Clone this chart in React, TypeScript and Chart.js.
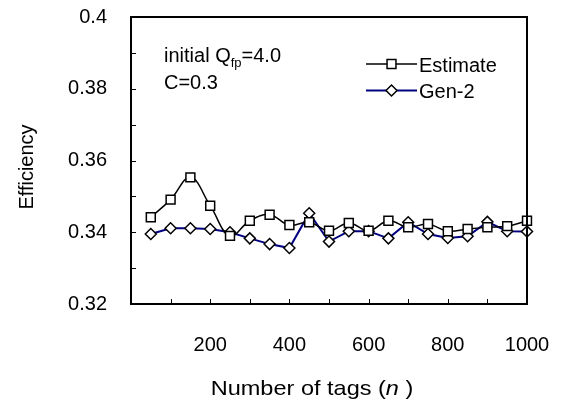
import React, { useEffect, useRef } from 'react';
import { Chart, registerables } from 'chart.js';

Chart.register(...registerables);

const tagCounts = [50, 100, 150, 200, 250, 300, 350, 400, 450, 500, 550, 600, 650, 700, 750, 800, 850, 900, 950, 1000];
const estimateEff = [0.3442, 0.3491, 0.3553, 0.3474, 0.339, 0.3432, 0.3449, 0.342, 0.3428, 0.3404, 0.3426, 0.3404, 0.3432, 0.3414, 0.3423, 0.3403, 0.3409, 0.3414, 0.3417, 0.3432];
const gen2Eff = [0.3395, 0.3411, 0.3411, 0.3409, 0.34, 0.3383, 0.3367, 0.3356, 0.3453, 0.3374, 0.3403, 0.3403, 0.3383, 0.3428, 0.3395, 0.3384, 0.3389, 0.3429, 0.3403, 0.3402];
const seriesNames = ['Estimate', 'Gen-2'];
const xTickLabels = ['200', '400', '600', '800', '1000'];
const yTickLabels = ['0.32', '0.34', '0.36', '0.38', '0.4'];
const xMinorTicks = [100, 200, 300, 400, 500, 600, 700, 800, 900];
const yMinorTicks = [0.33, 0.34, 0.35, 0.36, 0.37, 0.38, 0.39];

const FONT = '"Liberation Sans", Arial, sans-serif';

const zeroPad = (s: any) => {
  s.paddingLeft = 0;
  s.paddingRight = 0;
  s.paddingTop = 0;
  s.paddingBottom = 0;
};

const decorPlugin = {
  id: 'decor',
  afterDatasetsDraw(chart: any) {
    const { ctx, chartArea } = chart;
    const xs = chart.scales.x;
    const ys = chart.scales.y;
    ctx.save();
    ctx.strokeStyle = '#000';
    ctx.lineWidth = 2;
    ctx.strokeRect(chartArea.left, chartArea.top, chartArea.right - chartArea.left, chartArea.bottom - chartArea.top);
    ctx.lineWidth = 1;
    ctx.beginPath();
    xMinorTicks.forEach((v) => {
      const px = Math.round(xs.getPixelForValue(v)) + 0.5;
      ctx.moveTo(px, chartArea.bottom);
      ctx.lineTo(px, chartArea.bottom - 5);
    });
    yMinorTicks.forEach((v) => {
      const py = Math.round(ys.getPixelForValue(v)) + 0.5;
      ctx.moveTo(chartArea.left, py);
      ctx.lineTo(chartArea.left + 5, py);
    });
    ctx.stroke();

    // annotation text
    ctx.fillStyle = '#000';
    ctx.textAlign = 'left';
    ctx.textBaseline = 'alphabetic';
    ctx.font = `20px ${FONT}`;
    let ax = 164;
    const t1 = 'initial Q';
    ctx.fillText(t1, ax, 62);
    ax += ctx.measureText(t1).width;
    ctx.font = `13px ${FONT}`;
    ctx.fillText('fp', ax, 67);
    ax += ctx.measureText('fp').width;
    ctx.font = `20px ${FONT}`;
    ctx.fillText('=4.0', ax, 62);
    ctx.fillText('C=0.3', 164, 89);

    // legend
    const rows = [64, 90.5];
    chart.data.datasets.forEach((ds: any, i: number) => {
      const y = rows[i];
      ctx.strokeStyle = ds.borderColor;
      ctx.lineWidth = ds.borderWidth;
      ctx.beginPath();
      ctx.moveTo(366, y);
      ctx.lineTo(417, y);
      ctx.stroke();
      ctx.fillStyle = '#fff';
      ctx.strokeStyle = '#000';
      ctx.lineWidth = 1.5;
      ctx.beginPath();
      if (ds.pointStyle === 'rect') {
        const s = ds.pointRadius * Math.SQRT1_2;
        ctx.rect(391.5 - s, y - s, 2 * s, 2 * s);
      } else {
        const r = ds.pointRadius;
        ctx.moveTo(391.5 - r, y);
        ctx.lineTo(391.5, y - r);
        ctx.lineTo(391.5 + r, y);
        ctx.lineTo(391.5, y + r);
        ctx.closePath();
      }
      ctx.fill();
      ctx.stroke();
      ctx.fillStyle = '#000';
      ctx.font = `20px ${FONT}`;
      ctx.fillText(ds.label, 419, y + 7.5);
    });

    // y title
    ctx.save();
    ctx.translate(33, 167);
    ctx.rotate(-Math.PI / 2);
    ctx.textAlign = 'center';
    ctx.font = `20px ${FONT}`;
    ctx.fillText('Efficiency', 0, 0);
    ctx.restore();

    // x title with italic n (slightly widened like the reference)
    const p1 = 'Number of tags (';
    const p2 = 'n';
    const p3 = ' )';
    const sx = 1.12;
    ctx.font = `21px ${FONT}`;
    const w1 = ctx.measureText(p1).width;
    const w3 = ctx.measureText(p3).width;
    ctx.font = `italic 21px ${FONT}`;
    const w2 = ctx.measureText(p2).width;
    ctx.save();
    ctx.translate(312 - ((w1 + w2 + w3) * sx) / 2, 395);
    ctx.scale(sx, 1);
    let tx = 0;
    ctx.textAlign = 'left';
    ctx.font = `21px ${FONT}`;
    ctx.fillText(p1, tx, 0);
    tx += w1;
    ctx.font = `italic 21px ${FONT}`;
    ctx.fillText(p2, tx, 0);
    tx += w2;
    ctx.font = `21px ${FONT}`;
    ctx.fillText(p3, tx, 0);
    ctx.restore();
    ctx.restore();
  },
};

export default function App() {
  const ref = useRef<HTMLCanvasElement>(null);
  useEffect(() => {
    if (!ref.current) return;
    Chart.defaults.font.family = FONT;
    const chart = new Chart(ref.current, {
      type: 'line',
      data: {
        datasets: [
          {
            label: seriesNames[0],
            data: tagCounts.map((x, i) => ({ x, y: estimateEff[i] })),
            borderColor: '#000000',
            borderWidth: 1.5,
            pointStyle: 'rect',
            pointRadius: 6.3,
            pointBackgroundColor: '#ffffff',
            pointBorderColor: '#000000',
            pointBorderWidth: 1.5,
            tension: 0.4,
            clip: false,
          },
          {
            label: seriesNames[1],
            data: tagCounts.map((x, i) => ({ x, y: gen2Eff[i] })),
            borderColor: '#000080',
            borderWidth: 2,
            pointStyle: 'rectRot',
            pointRadius: 5.5,
            pointBackgroundColor: '#ffffff',
            pointBorderColor: '#000000',
            pointBorderWidth: 1.5,
            tension: 0,
            clip: false,
          },
        ],
      } as any,
      options: {
        responsive: false,
        animation: false,
        layout: { padding: { top: 17, right: 35, left: 0, bottom: 0 } },
        plugins: { legend: { display: false }, tooltip: { enabled: false } },
        scales: {
          x: {
            type: 'linear',
            min: 0,
            max: 1000,
            grid: { display: false },
            border: { display: false },
            ticks: {
              stepSize: 100,
              padding: 21,
              color: '#000',
              font: { size: 20, family: FONT },
              maxRotation: 0,
              autoSkip: false,
              callback: (v: any) => (xTickLabels.includes(String(v)) ? String(v) : ''),
            },
            afterFit: (s: any) => {
              s.height = 101;
              zeroPad(s);
            },
          },
          y: {
            type: 'linear',
            min: 0.32,
            max: 0.4,
            grid: { display: false },
            border: { display: false },
            ticks: {
              stepSize: 0.01,
              padding: 16,
              color: '#000',
              font: { size: 20, family: FONT },
              autoSkip: false,
              callback: (v: any) => {
                const l = yTickLabels.find((t) => Math.abs(parseFloat(t) - Number(v)) < 1e-6);
                return l ?? '';
              },
            },
            afterFit: (s: any) => {
              s.width = 131;
              zeroPad(s);
            },
          },
        },
      },
      plugins: [decorPlugin],
    });
    return () => chart.destroy();
  }, []);
  return (
    <div style={{ position: 'absolute', left: 0, top: 0, width: 562, height: 405, background: '#fff' }}>
      <canvas ref={ref} width={562} height={405} style={{ display: 'block' }} />
    </div>
  );
}
